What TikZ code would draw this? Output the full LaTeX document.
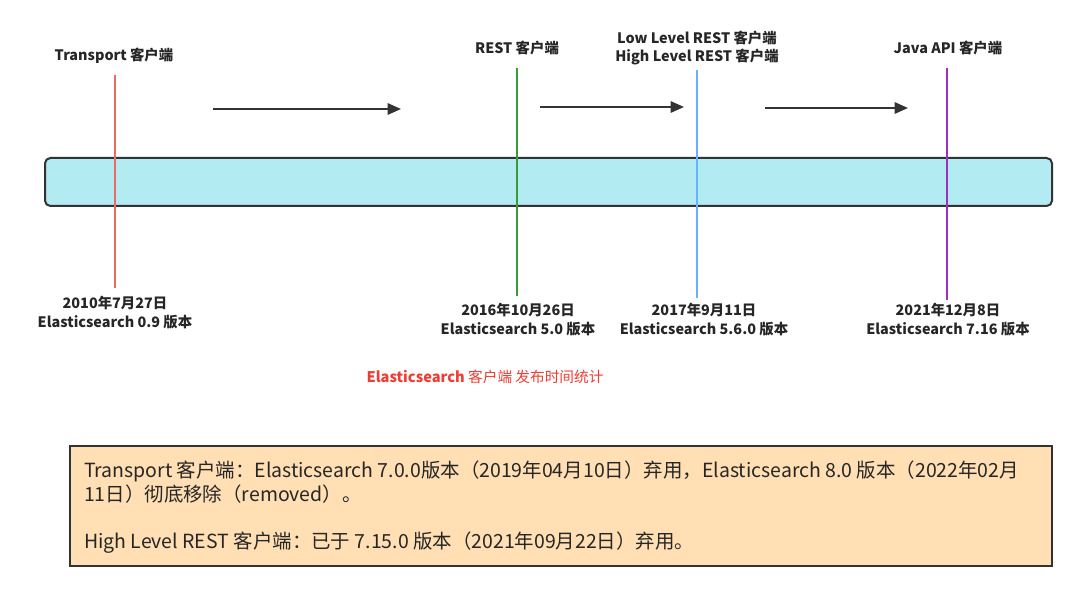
\documentclass[tikz,border=0pt]{standalone}
\usepackage{fontspec}
\setmainfont{Noto Sans CJK SC}
\usetikzlibrary{arrows.meta}

\definecolor{barfill}{HTML}{B2EBF2}
\definecolor{notefill}{HTML}{FFDFB3}
\definecolor{edge}{HTML}{333333}
\definecolor{tred}{HTML}{EA6B66}
\definecolor{tgreen}{HTML}{3A9A3A}
\definecolor{tblue}{HTML}{66B2FF}
\definecolor{tpurple}{HTML}{A030C0}
\definecolor{captred}{HTML}{F03C32}

\begin{document}
\begin{tikzpicture}[x=0.75pt, y=-0.75pt, >={Triangle[length=10pt,width=8.5pt]}, line width=1.5pt]

    % 画布范围 (1080 x 595 像素)
    \useasboundingbox (0,0) rectangle (1080,595);

    % 样式
    \tikzset{
      toplabel/.style={font=\bfseries\fontsize{10.8}{14}\selectfont, align=center, text=black!85},
      datelabel/.style={font=\bfseries\fontsize{10.8}{14.25}\selectfont, align=center, text=black!85},
      tick/.style={line width=1.5pt},
      flow/.style={->, draw=edge, line width=1.5pt},
      notetext/.style={font=\fontsize{14.6}{18}\selectfont, anchor=west, align=left, text=black!85, inner sep=0pt}
    }

    % 1. 时间轴主条
    \draw[draw=edge, fill=barfill, rounded corners=4pt] (45,158) rectangle (1052,206);

    % 2. 四个时间点的竖线
    \coordinate (t1top) at (115,75);  \coordinate (t1bot) at (115,288);
    \coordinate (t2top) at (517,68);  \coordinate (t2bot) at (517,296);
    \coordinate (t3top) at (697,70);  \coordinate (t3bot) at (697,298);
    \coordinate (t4top) at (947,68);  \coordinate (t4bot) at (947,300);
    \draw[tick, tred]    (t1top) -- (t1bot);
    \draw[tick, tgreen]  (t2top) -- (t2bot);
    \draw[tick, tblue]   (t3top) -- (t3bot);
    \draw[tick, tpurple] (t4top) -- (t4bot);

    % 3. 上方的客户端名称
    \node[toplabel] (client1) at (114,56) {Transport 客户端};
    \node[toplabel] (client2) at (517,48) {REST 客户端};
    \node[toplabel] (client3) at (697,48) {Low Level REST 客户端\\High Level REST 客户端};
    \node[toplabel] (client4) at (948,48) {Java API 客户端};

    % 4. 下方的日期与版本
    \node[datelabel] (date1) at (115,313) {2010年7月27日\\Elasticsearch 0.9 版本};
    \node[datelabel] (date2) at (518,320) {2016年10月26日\\Elasticsearch 5.0 版本};
    \node[datelabel] (date3) at (704,320) {2017年9月11日\\Elasticsearch 5.6.0 版本};
    \node[datelabel] (date4) at (948,320) {2021年12月8日\\Elasticsearch 7.16 版本};

    % 5. 时间点之间的箭头
    \coordinate (a1s) at (213,109); \coordinate (a1e) at (401,109);
    \coordinate (a2s) at (540,107); \coordinate (a2e) at (684,107);
    \coordinate (a3s) at (765,108); \coordinate (a3e) at (908,108);
    \draw[flow] (a1s) -- (a1e);
    \draw[flow] (a2s) -- (a2e);
    \draw[flow] (a3s) -- (a3e);

    % 6. 红色标题
    \node[font=\fontsize{11}{13}\selectfont, text=captred] (caption) at (485,377)
      {\textbf{Elasticsearch} 客户端 发布时间统计};

    % 7. 底部说明框
    \draw[draw=edge, fill=notefill] (70,446) rectangle (1052,566);
    \node[notetext] (note1) at (83,482)
      {Transport 客户端：Elasticsearch 7.0.0版本（2019年04月10日）弃用，Elasticsearch 8.0 版本（2022年02月\\11日）彻底移除（removed）。};
    \node[notetext] (note2) at (83,543)
      {High Level REST 客户端：已于 7.15.0 版本（2021年09月22日）弃用。};

\end{tikzpicture}
\end{document}
